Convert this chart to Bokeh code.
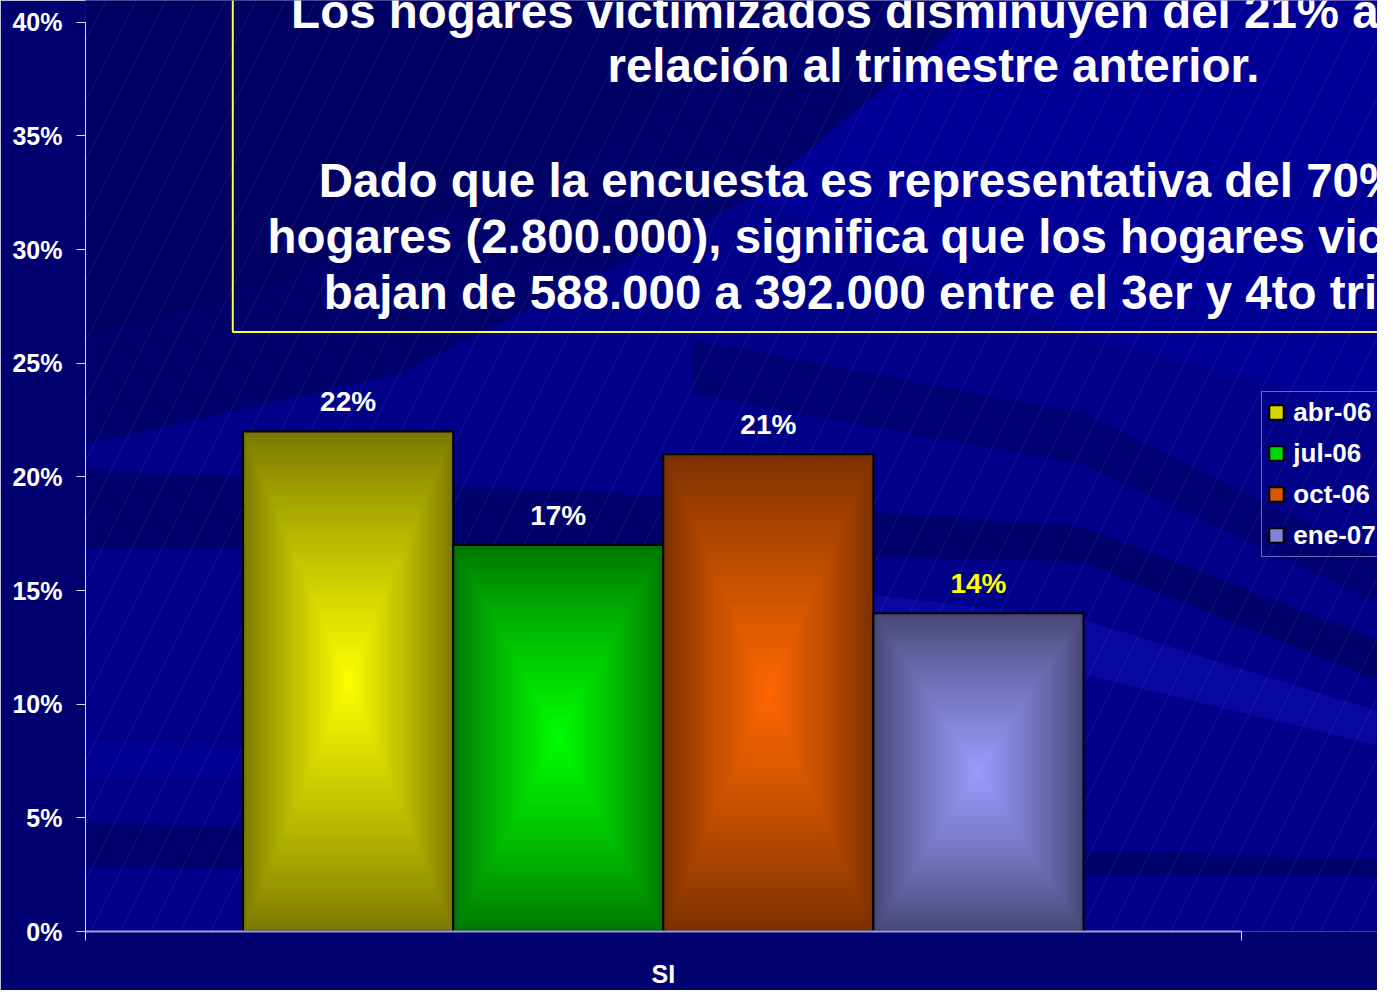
import numpy as np
from bokeh.plotting import figure
from bokeh.models import (ColumnDataSource, Range1d, FixedTicker, PrintfTickFormatter,
                          Legend, LegendItem, BoxAnnotation, PolyAnnotation, Label)
from bokeh.core.properties import value
from bokeh.embed import file_html
from bokeh.resources import INLINE

# ---------------- data ----------------
categories = ["SI"]
series = ["abr-06", "jul-06", "oct-06", "ene-07"]
values = [22, 17, 21, 14]
value_labels = ["22%", "17%", "21%", "14%"]
y_ticks = [0, 5, 10, 15, 20, 25, 30, 35, 40]

title_lines = [
    "Los hogares victimizados disminuyen  del 21% al 14% en",
    "relación al trimestre anterior.",
    "Dado que la encuesta es representativa del 70% de los",
    "hogares (2.800.000), significa que los hogares victimizados",
    "bajan de 588.000 a 392.000 entre el 3er y 4to trimestre.",
]

# ---------------- styles ----------------
edge_colors = [(122, 120, 0), (0, 118, 0), (122, 48, 0), (70, 70, 118)]
center_colors = [(255, 255, 0), (0, 255, 0), (255, 104, 0), (156, 156, 255)]
label_colors = ["white", "white", "white", "#ffff00"]
FONT = "Liberation Sans"

# layout: reference pixel positions are scaled onto a 1377 x 987 figure
W, H = 1377, 987
SX, SY = W / 1393.0, H / 1003.0
LEFT = round(86 * SX)                 # y axis position
ZERO_Y = 946 * SY                     # 0 % line
FRAME_W = W - LEFT
FRAME_H = round(ZERO_Y)
BOTTOM = H - FRAME_H
PX_PER_PCT = (946 - 22) * SY / 40.0
CAT_PX = (1255 - 86) * SX

def xd(ref_x):
    return (ref_x * SX - LEFT) / CAT_PX

def yd(ref_y):
    return (FRAME_H - ref_y * SY) / PX_PER_PCT

def mix(c1, c2, t):
    return "#%02x%02x%02x" % tuple(int(round(a + (b - a) * t)) for a, b in zip(c1, c2))

p = figure(frame_width=FRAME_W, frame_height=FRAME_H,
           x_range=Range1d(0, FRAME_W / CAT_PX), y_range=Range1d(0, FRAME_H / PX_PER_PCT),
           output_backend="svg", toolbar_location=None,
           min_border_left=LEFT, min_border_right=0, min_border_top=0, min_border_bottom=BOTTOM,
           background_fill_color="#000088", border_fill_color="#000070",
           outline_line_color=None)
p.grid.visible = False

# ---------------- background decoration ----------------
bands = [
    ("#00006a", [(0, 0), (1000, 0), (760, 200), (400, 380), (0, 470)]),
    ("#000062", [(0, 0), (800, 0), (560, 170), (240, 300), (0, 360)]),
    ("#000096", [(1000, 0), (1393, 0), (1393, 420), (1095, 340), (760, 200)]),
    ("#000072", [(700, 345), (1095, 420), (1393, 565), (1393, 612), (1095, 471), (700, 400)]),
    ("#00006a", [(0, 473), (600, 500), (1095, 535), (1393, 650), (1393, 690), (1095, 570), (600, 560), (0, 555)]),
    ("#0808a0", [(850, 600), (1095, 629), (1393, 722), (1393, 757), (1095, 685), (850, 655)]),
    ("#000092", [(0, 752), (700, 770), (700, 800), (0, 785)]),
    ("#00006c", [(0, 833), (1393, 873), (1393, 890), (0, 879)]),
]
for col, pts in bands:
    p.add_layout(PolyAnnotation(xs=[xd(a) for a, b in pts], ys=[yd(b) for a, b in pts],
                                fill_color=col, fill_alpha=1.0, line_color=None, level="underlay"))

p.add_layout(BoxAnnotation(fill_alpha=0, line_color=None, hatch_pattern="/", hatch_color="white",
                           hatch_alpha=0.12, hatch_scale=60, hatch_weight=0.6, level="underlay"))

# yellow text box
p.add_layout(BoxAnnotation(left=xd(235), right=xd(1500), bottom=yd(337), top=yd(-40),
                           fill_alpha=0, line_color="#ffff33", line_alpha=1.0, line_width=2,
                           level="underlay"))

# ---------------- bars ----------------
n = len(series)
bar_w = 1.0 / (n + 1.5)
N = 40
legend_items = []
centers = []
for i, (name, v) in enumerate(zip(series, values)):
    cx = 0.5 + (i - (n - 1) / 2.0) * bar_w
    centers.append(cx)
    L, R = cx - bar_w / 2, cx + bar_w / 2
    t = np.arange(N) / N
    colors = [mix(edge_colors[i], center_colors[i], tt ** 0.85) for tt in t]
    # last row: zero-size swatch row (at the bar's outlined corner) used for the legend
    src = ColumnDataSource(dict(
        left=list(L + t * (bar_w / 2)) + [L], right=list(R - t * (bar_w / 2)) + [L],
        bottom=list(t * v / 2.0) + [0.0], top=list(v - t * v / 2.0) + [0.0],
        color=colors + [mix(edge_colors[i], center_colors[i], 0.7)],
        lalpha=[0.0] * N + [1.0]))
    gr = p.quad(left="left", right="right", bottom="bottom", top="top", source=src,
                fill_color="color", line_color="black", line_alpha="lalpha", line_width=2)
    p.quad(left=[L], right=[R], bottom=[0], top=[v], fill_color=None,
           line_color="black", line_width=2)
    legend_items.append(LegendItem(label=name, renderers=[gr], index=N))

# value labels
p.text(x=centers, y=[v + 30 * SY / PX_PER_PCT for v in values], text=value_labels,
       text_color=label_colors, text_align="center", text_baseline="middle",
       text_font=value(FONT), text_font_style="bold", text_font_size="28px")

# ---------------- axes ----------------
ya = p.yaxis[0]
ya.ticker = FixedTicker(ticks=y_ticks)
ya.formatter = PrintfTickFormatter(format="%d%%")
ya.bounds = (0, 40)
ya.axis_line_color = "#d8d8e8"
ya.major_tick_line_color = "#d8d8e8"
ya.major_tick_out = 9
ya.major_tick_in = 0
ya.minor_tick_line_color = None
ya.major_label_standoff = 14
ya.major_label_text_font = FONT
ya.major_label_text_font_style = "bold"
ya.major_label_text_font_size = "25px"
ya.major_label_text_color = "white"

xa = p.xaxis[0]
xa.ticker = FixedTicker(ticks=[0.5], minor_ticks=[0.0, 1.0])
xa.major_label_overrides = {0.5: categories[0]}
xa.bounds = (0, 1)
xa.axis_line_color = "#9c9ce0"
xa.axis_line_width = 2
xa.major_tick_out = 0
xa.major_tick_in = 0
xa.major_tick_line_color = None
xa.minor_tick_out = 9
xa.minor_tick_in = 0
xa.minor_tick_line_color = "#e0e0f0"
xa.major_label_standoff = 19
xa.major_label_text_font = FONT
xa.major_label_text_font_style = "bold"
xa.major_label_text_font_size = "25px"
xa.major_label_text_color = "white"

# ---------------- title text ----------------
# (reference x of the line start, reference y of the text's vertical middle)
title_pos = [(294, 11), (614, 66), (322, 183), (270, 240), (327, 297)]
for txt, (px_, py_) in zip(title_lines, title_pos):
    p.add_layout(Label(x=xd(px_), y=yd(py_), text=txt, text_align="left",
                       text_baseline="middle", text_font=FONT, text_font_style="bold",
                       text_font_size="47.5px", text_color="white"))

# ---------------- legend ----------------
leg_left = 1276 * SX - LEFT
leg_bottom = FRAME_H - 566 * SY
legend = Legend(items=legend_items, location=(leg_left, leg_bottom), orientation="vertical",
                label_text_font=FONT, label_text_font_style="bold", label_text_font_size="26px",
                label_text_color="white", glyph_width=18, glyph_height=18, label_standoff=8,
                padding=5, spacing=10, margin=0,
                border_line_color="#d0d0e0", border_line_width=1.5, background_fill_alpha=0)
p.add_layout(legend)

open("out.html", "w").write(file_html(p, INLINE))
